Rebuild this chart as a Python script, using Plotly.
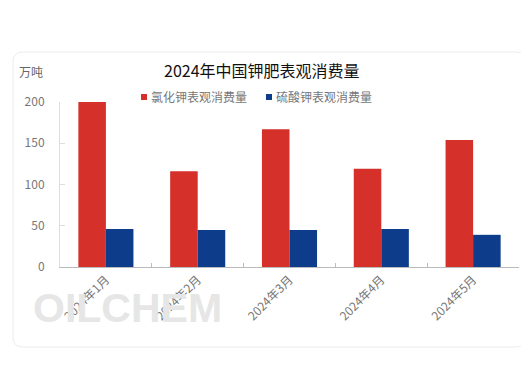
import plotly.graph_objects as go

months = ["2024年1月", "2024年2月", "2024年3月", "2024年4月", "2024年5月"]
kcl = [200, 116, 167, 119, 154]
k2so4 = [46, 45, 45, 46, 39]
series_names = ["氯化钾表观消费量", "硫酸钾表观消费量"]
series_colors = ["#D5302A", "#0C3C8A"]
title_text = "2024年中国钾肥表观消费量"
unit_text = "万吨"

# page body has an 8px margin; work in screen coordinates and shift
OFF = 8
SW, SH = 529, 380
W, H = SW - OFF, SH - OFF
L, R, T, B = 60 - OFF, 10, 102 - OFF, 113
pw, ph = W - L - R, H - T - B

def px(x):
    return (x - OFF - L) / pw

def py(y):
    return (H - B - (y - OFF)) / ph

font = "Noto Sans CJK SC, Noto Sans, sans-serif"

fig = go.Figure()
fig.add_trace(go.Bar(x=months, y=kcl, name=series_names[0], marker_color=series_colors[0], marker_line_width=0))
fig.add_trace(go.Bar(x=months, y=k2so4, name=series_names[1], marker_color=series_colors[1], marker_line_width=0))

# card border (rounded rect)
x0, y0, x1, y1, r = 13, 52, 526, 347, 10
path = (f"M {px(x0 + r)},{py(y0)} L {px(x1 - r)},{py(y0)} Q {px(x1)},{py(y0)} {px(x1)},{py(y0 + r)} "
        f"L {px(x1)},{py(y1 - r)} Q {px(x1)},{py(y1)} {px(x1 - r)},{py(y1)} "
        f"L {px(x0 + r)},{py(y1)} Q {px(x0)},{py(y1)} {px(x0)},{py(y1 - r)} "
        f"L {px(x0)},{py(y0 + r)} Q {px(x0)},{py(y0)} {px(x0 + r)},{py(y0)} Z")
fig.add_shape(type="path", path=path, xref="paper", yref="paper",
              line=dict(color="#ECECEC", width=1), layer="below")

# watermark
fig.add_annotation(text="OILCHEM", xref="paper", yref="paper", x=px(31), y=py(308),
                   xanchor="left", yanchor="middle", showarrow=False,
                   font=dict(family="Liberation Sans, Arial", size=41, color="#E6E6E6", weight="bold"))

fig.add_annotation(text=title_text, xref="paper", yref="paper", x=px(262), y=py(70),
                   xanchor="center", yanchor="middle", showarrow=False,
                   font=dict(family=font, size=16, color="#111111"))
fig.add_annotation(text=unit_text, xref="paper", yref="paper", x=px(31), y=py(72),
                   xanchor="center", yanchor="middle", showarrow=False,
                   font=dict(family=font, size=12, color="#666666"))

# custom legend
leg_pos = [141, 266]
for name, color, lx in zip(series_names, series_colors, leg_pos):
    fig.add_shape(type="rect", xref="paper", yref="paper",
                  x0=px(lx), x1=px(lx + 6), y0=py(100), y1=py(94),
                  fillcolor=color, line_width=0)
    fig.add_annotation(text=name, xref="paper", yref="paper", x=px(lx + 8), y=py(96.5),
                       xanchor="left", yanchor="middle", showarrow=False,
                       font=dict(family=font, size=12, color="#777777"))

fig.update_layout(
    width=W, height=H,
    margin=dict(l=L, r=R, t=T, b=B, autoexpand=False),
    paper_bgcolor="white", plot_bgcolor="white",
    barmode="group", bargap=0.4, bargroupgap=0,
    showlegend=False,
    font=dict(family=font),
    xaxis=dict(showline=True, linecolor="#BBBBBB", linewidth=1, ticks="inside",
               tickson="boundaries", ticklen=4, tickcolor="#BBBBBB",
               tickangle=-45, tickfont=dict(family=font, size=12, color="#777777"),
               showgrid=False, zeroline=False, automargin=False),
    yaxis=dict(range=[0, 200], tickvals=[0, 50, 100, 150, 200], showline=True,
               linecolor="#DDDDDD", linewidth=1, ticks="inside", ticklen=5,
               tickcolor="#DDDDDD", showgrid=False, zeroline=False, automargin=False,
               tickfont=dict(family=font, size=12, color="#777777"), ticklabelstandoff=12),
)

fig.write_html("out.html")
